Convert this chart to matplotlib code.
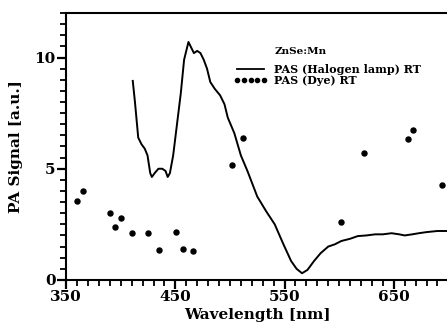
import matplotlib
matplotlib.use('Agg')
import matplotlib.pyplot as plt
from matplotlib.ticker import MultipleLocator
from matplotlib.lines import Line2D

# PAS spectrum measured with halogen lamp (solid line)
halogen_wl = [411, 413, 416, 419, 422, 424.5, 427, 428.5, 431, 434.5, 438, 441, 443, 445,
              448, 452, 455, 458, 460, 462, 465, 467, 470, 473, 476, 479, 482, 486, 491,
              495, 498, 504, 510, 516, 525, 533, 541, 549, 556, 561, 566, 571, 577, 583,
              590, 596, 602, 610, 617, 625, 633, 640, 648, 655, 660, 667, 673, 680, 690, 700]
halogen_pa = [8.95, 8.0, 6.4, 6.1, 5.9, 5.6, 4.8, 4.63, 4.8, 5.0, 5.0, 4.9, 4.63, 4.8,
              5.6, 7.2, 8.4, 9.9, 10.3, 10.7, 10.4, 10.2, 10.3, 10.2, 9.9, 9.5, 8.9, 8.6, 8.3,
              7.9, 7.3, 6.6, 5.6, 4.9, 3.75, 3.1, 2.5, 1.6, 0.85, 0.5, 0.3, 0.45, 0.85, 1.2,
              1.5, 1.6, 1.75, 1.85, 1.97, 2.0, 2.05, 2.05, 2.1, 2.05, 2.0, 2.05, 2.1, 2.15, 2.2, 2.2]

# PAS points measured with dye laser (dots)
dye_wl = [360, 365.5, 390, 395, 400, 410, 425, 435, 451, 457, 466,
          502, 512, 602, 623, 663, 668, 694]
dye_pa = [3.55, 4.0, 3.0, 2.4, 2.8, 2.1, 2.1, 1.35, 2.15, 1.4, 1.3,
          5.15, 6.4, 2.6, 5.7, 6.35, 6.75, 4.25]

x_ticks = [350, 450, 550, 650]
y_ticks = [0, 5, 10]

plt.rcParams['font.family'] = ['DejaVu Serif']
plt.rcParams['font.weight'] = 'bold'

fig = plt.figure(figsize=(4.47, 3.27), dpi=100)
ax = fig.add_axes([0.148, 0.144, 0.855, 0.816])

ax.plot(halogen_wl, halogen_pa, color='black', linewidth=1.4)
ax.plot(dye_wl, dye_pa, linestyle='none', marker='o', markersize=3.6, color='black')

ax.set_xlim(350, 700)
ax.set_ylim(0, 12)
ax.set_xticks(x_ticks)
ax.set_yticks(y_ticks)
ax.xaxis.set_minor_locator(MultipleLocator(10))
ax.yaxis.set_minor_locator(MultipleLocator(0.5))
ax.tick_params(which='major', direction='out', length=6.5, width=1.6, labelsize=11, pad=1)
ax.tick_params(which='minor', direction='out', length=4.5, width=1.3)
ax.tick_params(axis='x', which='both', top=False)
ax.tick_params(axis='y', which='both', right=False)

ax.spines['right'].set_visible(False)
for s in ['left', 'bottom', 'top']:
    ax.spines[s].set_linewidth(1.5)

ax.set_xlabel('Wavelength [nm]', fontsize=11, fontweight='bold', labelpad=3)
ax.set_ylabel('PA Signal [a.u.]', fontsize=11, fontweight='bold', labelpad=8)

ax.text(0.546, 0.845, 'ZnSe:Mn', transform=ax.transAxes, fontsize=7.5, fontweight='bold')
handles = [Line2D([], [], color='black', linewidth=1.3),
           Line2D([], [], color='black', linestyle='none', marker='o', markersize=3)]
ax.legend(handles, ['PAS (Halogen lamp) RT', 'PAS (Dye) RT'], loc='upper left',
          bbox_to_anchor=(0.425, 0.83), frameon=False, numpoints=5,
          handlelength=3.0, handletextpad=0.6, labelspacing=0.0, borderpad=0,
          prop={'size': 8, 'weight': 'bold'})

plt.savefig('out.png', dpi=100)
plt.close()
